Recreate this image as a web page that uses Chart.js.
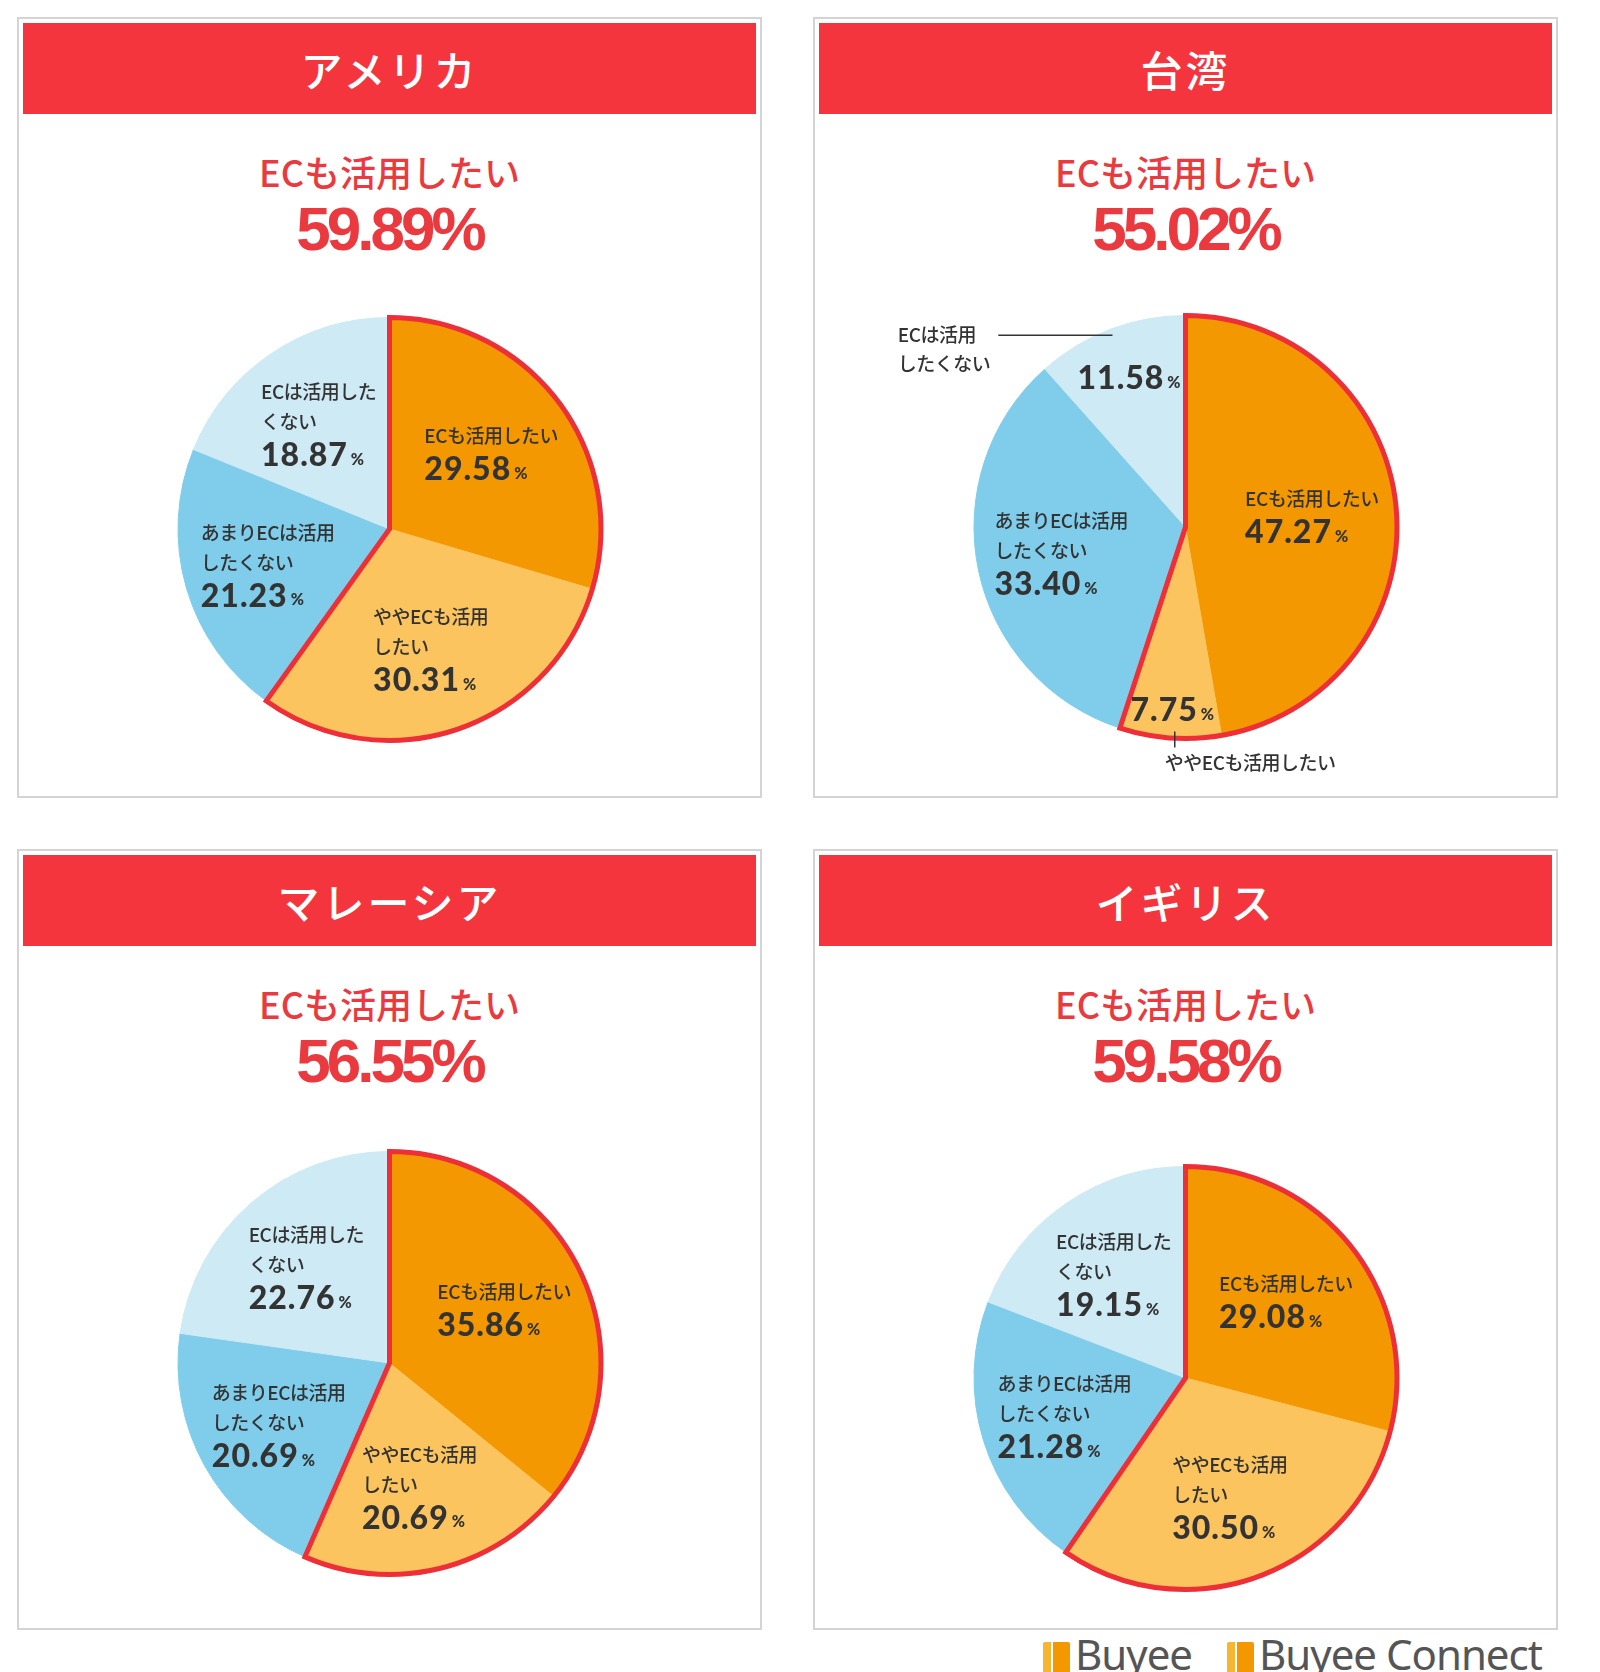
<!DOCTYPE html>
<html lang="ja">
<head>
<meta charset="utf-8">
<script src="https://cdn.jsdelivr.net/npm/chart.js@4.4.1/dist/chart.umd.min.js"></script>
<style>
  body { margin:0; width:1600px; height:1672px; background:#fff; position:relative; overflow:hidden;
         font-family:"Noto Sans CJK JP", sans-serif; }
  .panel { position:absolute; width:741px; height:777px; border:2px solid #d4d4d4; background:#fff; }
  .head { position:absolute; left:4px; top:4px; width:733px; height:91px; background:#f5353e; color:#fff;
          font-size:42px; font-weight:500; text-align:center; line-height:91px; letter-spacing:3px; }
  .sub { position:absolute; left:0; top:132px; width:100%; text-align:center; color:#ea3a40;
         font-size:36px; font-weight:500; line-height:40px; letter-spacing:0px; }
  .big { position:absolute; left:0; top:179px; width:100%; text-align:center; color:#ea3a40;
         font-family:"Liberation Sans", Arial, sans-serif; font-weight:bold; font-size:62px; line-height:62px; letter-spacing:-4px; }
  .pie { position:absolute; left:4px; top:250px; }
  .logo { position:absolute; top:1632px; font-family:"Noto Sans", sans-serif; font-size:42px; color:#555; line-height:44px; letter-spacing:-1px; }
  .bag { display:inline-block; width:27px; height:31px; margin-right:5px; vertical-align:-3px;
         background:linear-gradient(90deg,#f7b531 0 30%,#fff 30% 38%,#f39800 38% 100%); border-radius:2px; }
</style>
</head>
<body>
<div id="panels"></div>
<div class="logo" style="left:1043px"><span class="bag"></span>Buyee</div>
<div class="logo" style="left:1227px"><span class="bag"></span>Buyee Connect</div>
<script>
// categories (clockwise from 12 o'clock)
const categories = ['ECも活用したい', 'ややECも活用したい', 'あまりECは活用したくない', 'ECは活用したくない'];
const countries = ['アメリカ', '台湾', 'マレーシア', 'イギリス'];
const headlineLabel = 'ECも活用したい';
const headlineValues = [59.89, 55.02, 56.55, 59.58];

const usaValues = [29.58, 30.31, 21.23, 18.87];
const taiwanValues = [47.27, 7.75, 33.40, 11.58];
const malaysiaValues = [35.86, 20.69, 20.69, 22.76];
const ukValues = [29.08, 30.50, 21.28, 19.15];

// how the category names wrap inside the slices
const wrapDefault = ['ECも活用したい', 'ややECも活用\nしたい', 'あまりECは活用\nしたくない', 'ECは活用した\nくない'];
const wrapTaiwan = ['ECも活用したい', 'ややECも活用したい', 'あまりECは活用\nしたくない', 'ECは活用\nしたくない'];

const sliceColors = ['#f39800', '#fbc45e', '#7fcdea', '#cdeaf5'];
const outlineColor = '#ee2f37';

// panel placement
const panelPos = [[17, 17], [813, 17], [17, 849], [813, 849]];
const pieCenterY = [260, 258, 262, 277]; // inside the canvas
const radius = 212;
const canvasW = 733, canvasH = 510;

const charts = [
  { values: usaValues, wrap: wrapDefault, frac: [0.6, 0.6, 0.6, 0.6] },
  { values: taiwanValues, wrap: wrapTaiwan, frac: [0.6, 0.87, 0.6, 0.75],
    callouts: { 3: 'left', 1: 'below' } },
  { values: malaysiaValues, wrap: wrapDefault, frac: [0.6, 0.6, 0.6, 0.6] },
  { values: ukValues, wrap: wrapDefault, frac: [0.6, 0.6, 0.6, 0.6] }
];

const catFont = '500 19px "Noto Sans CJK JP"';
const valFont = '900 32px Lato';
const pctFont = '900 16px Lato';
const textColor = '#333';

function drawValue(ctx, txt, x, y) {
  ctx.font = valFont;
  ctx.letterSpacing = '1px';
  ctx.textAlign = 'left';
  ctx.fillText(txt, x, y);
  const w = ctx.measureText(txt).width;
  ctx.font = pctFont;
  ctx.letterSpacing = '0px';
  ctx.fillText('%', x + w + 3, y + 4);
}
function valueWidth(ctx, txt) {
  ctx.font = valFont; ctx.letterSpacing = '1px';
  const w = ctx.measureText(txt).width;
  ctx.font = pctFont; ctx.letterSpacing = '0px';
  return w + 3 + ctx.measureText('%').width;
}

const sliceLabels = {
  id: 'sliceLabels',
  afterDatasetsDraw(chart, args, opts) {
    const ctx = chart.ctx;
    const meta = chart.getDatasetMeta(0);
    const vals = chart.data.datasets[0].data;
    const a0 = meta.data[0], a1 = meta.data[1];
    ctx.save();
    // red outline round the two "want EC" slices
    ctx.beginPath();
    ctx.moveTo(a0.x, a0.y);
    ctx.arc(a0.x, a0.y, a0.outerRadius, a0.startAngle, a1.endAngle);
    ctx.closePath();
    ctx.lineJoin = 'miter';
    ctx.lineWidth = 5;
    ctx.strokeStyle = outlineColor;
    ctx.stroke();

    ctx.fillStyle = textColor;
    ctx.textBaseline = 'middle';
    meta.data.forEach((arc, i) => {
      const mid = (arc.startAngle + arc.endAngle) / 2;
      const r = arc.outerRadius;
      const ax = arc.x + Math.cos(mid) * r * opts.frac[i];
      const ay = arc.y + Math.sin(mid) * r * opts.frac[i];
      const txt = vals[i].toFixed(2);
      const callout = opts.callouts && opts.callouts[i];
      if (callout) {
        const vw = valueWidth(ctx, txt);
        drawValue(ctx, txt, ax - vw / 2, ay);
        const px = arc.x + Math.cos(mid) * r * 0.97;
        const py = arc.y + Math.sin(mid) * r * 0.97;
        const lines = opts.wrap[i].split('\n');
        ctx.strokeStyle = textColor;
        ctx.lineWidth = 1.5;
        ctx.beginPath();
        ctx.font = catFont;
        ctx.letterSpacing = '-0.5px';
        if (callout === 'left') {
          const ex = px - r * 0.54;
          ctx.moveTo(px, py); ctx.lineTo(ex, py); ctx.stroke();
          let lw = Math.max(...lines.map(l => ctx.measureText(l).width));
          lines.forEach((l, k) => {
            ctx.textAlign = 'left';
            ctx.fillText(l, ex - 8 - lw, py + k * 29);
          });
        } else {
          ctx.moveTo(px + 4, py); ctx.lineTo(px + 4, py + 16); ctx.stroke();
          lines.forEach((l, k) => {
            ctx.textAlign = 'left';
            ctx.fillText(l, px - 6, py + 31 + k * 29);
          });
        }
        return;
      }
      const lines = opts.wrap[i].split('\n');
      ctx.font = catFont;
      ctx.letterSpacing = '-0.5px';
      let w = Math.max(...lines.map(l => ctx.measureText(l).width));
      w = Math.max(w, valueWidth(ctx, txt));
      const total = lines.length * 30 + 34;
      const left = ax - w / 2;
      let y = ay - total / 2 + 15;
      ctx.font = catFont;
      ctx.letterSpacing = '-0.5px';
      ctx.textAlign = 'left';
      lines.forEach(l => { ctx.fillText(l, left, y); y += 30; });
      drawValue(ctx, txt, left, y + 4);
    });
    ctx.restore();
  }
};

const holder = document.getElementById('panels');
charts.forEach((c, p) => {
  const panel = document.createElement('div');
  panel.className = 'panel';
  panel.style.left = panelPos[p][0] + 'px';
  panel.style.top = panelPos[p][1] + 'px';
  panel.innerHTML = '<div class="head">' + countries[p] + '</div>' +
    '<div class="sub">' + headlineLabel + '</div>' +
    '<div class="big">' + headlineValues[p].toFixed(2) + '%</div>';
  const cv = document.createElement('canvas');
  cv.className = 'pie';
  cv.width = canvasW; cv.height = canvasH;
  panel.appendChild(cv);
  holder.appendChild(panel);

  const padTop = pieCenterY[p] - radius;
  const padBottom = canvasH - pieCenterY[p] - radius;
  new Chart(cv, {
    type: 'pie',
    data: {
      labels: categories,
      datasets: [{
        data: c.values,
        backgroundColor: sliceColors,
        borderColor: sliceColors,
        borderWidth: 1,
        hoverOffset: 0
      }]
    },
    options: {
      responsive: false,
      animation: false,
      events: [],
      layout: { padding: { top: padTop, bottom: padBottom } },
      plugins: {
        legend: { display: false },
        tooltip: { enabled: false },
        sliceLabels: { frac: c.frac, wrap: c.wrap, callouts: c.callouts }
      }
    },
    plugins: [sliceLabels]
  });
});
</script>
</body>
</html>
